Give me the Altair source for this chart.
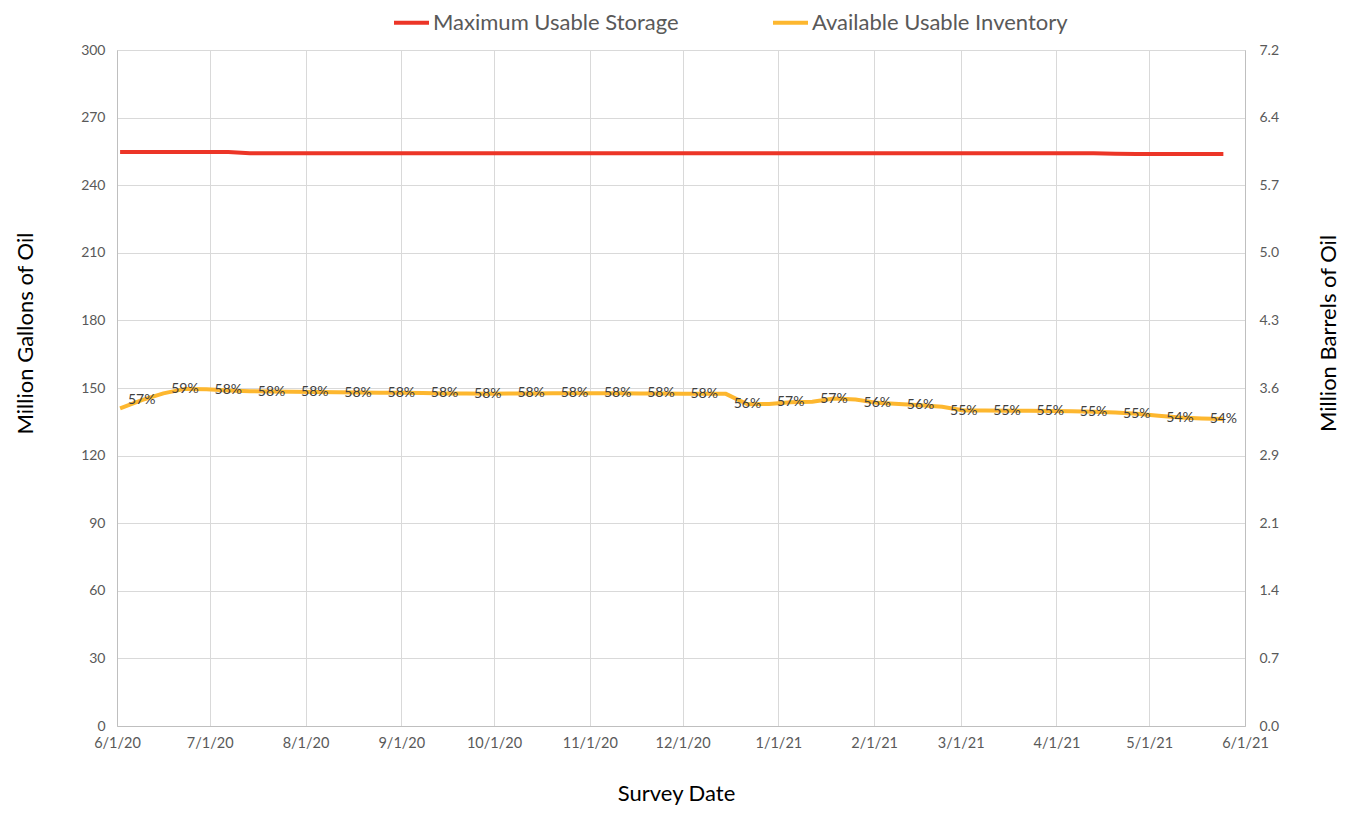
import altair as alt
import pandas as pd

# ---------------- data ----------------
dates = [
    "2020-06-02", "2020-06-09", "2020-06-16", "2020-06-23", "2020-06-30",
    "2020-07-07", "2020-07-14", "2020-07-21", "2020-07-28",
    "2020-08-04", "2020-08-11", "2020-08-18", "2020-08-25",
    "2020-09-01", "2020-09-08", "2020-09-15", "2020-09-22", "2020-09-29",
    "2020-10-06", "2020-10-13", "2020-10-20", "2020-10-27",
    "2020-11-03", "2020-11-10", "2020-11-17", "2020-11-24",
    "2020-12-01", "2020-12-08", "2020-12-15", "2020-12-22", "2020-12-29",
    "2021-01-05", "2021-01-12", "2021-01-19", "2021-01-26",
    "2021-02-02", "2021-02-09", "2021-02-16", "2021-02-23",
    "2021-03-02", "2021-03-09", "2021-03-16", "2021-03-23", "2021-03-30",
    "2021-04-06", "2021-04-13", "2021-04-20", "2021-04-27",
    "2021-05-04", "2021-05-11", "2021-05-18", "2021-05-25",
]

max_storage = [
    254.7, 254.7, 254.7, 254.7, 254.7,
    254.7, 254.2, 254.2, 254.2,
    254.2, 254.2, 254.2, 254.2,
    254.2, 254.2, 254.2, 254.2, 254.2,
    254.2, 254.2, 254.2, 254.2,
    254.2, 254.2, 254.2, 254.2,
    254.2, 254.2, 254.2, 254.2, 254.2,
    254.2, 254.2, 254.2, 254.2,
    254.2, 254.2, 254.2, 254.2,
    254.2, 254.2, 254.2, 254.2, 254.2,
    254.2, 254.2, 254.0, 253.9,
    253.9, 253.9, 253.9, 253.9,
]

inventory = [
    141.0, 144.6, 147.6, 149.6, 149.4,
    148.9, 148.6, 148.4, 148.3,
    148.2, 148.1, 148.0, 147.9,
    147.9, 147.8, 147.6, 147.6, 147.5,
    147.6, 147.6, 147.7, 147.7,
    147.7, 147.7, 147.6, 147.6,
    147.5, 147.5, 147.4, 142.8, 142.9,
    143.7, 143.9, 145.3, 144.9,
    143.4, 142.9, 142.3, 141.7,
    140.0, 140.0, 139.9, 139.9, 139.8,
    139.7, 139.5, 139.1, 138.6,
    137.7, 136.9, 136.5, 136.2,
]

pct_labels = [
    "", "57%", "", "59%", "",
    "58%", "", "58%", "",
    "58%", "", "58%", "",
    "58%", "", "58%", "", "58%",
    "", "58%", "", "58%",
    "", "58%", "", "58%",
    "", "58%", "", "56%", "",
    "57%", "", "57%", "",
    "56%", "", "56%", "",
    "55%", "", "55%", "", "55%",
    "", "55%", "", "55%",
    "", "54%", "", "54%",
]

series_names = ["Maximum Usable Storage", "Available Usable Inventory"]
series_colors = ["#EC3527", "#FDB72F"]

month_ticks = [(2020, m) for m in range(6, 13)] + [(2021, m) for m in range(1, 7)]
left_ticks = [0, 30, 60, 90, 120, 150, 180, 210, 240, 270, 300]
right_tick_labels = ["0.0", "0.7", "1.4", "2.1", "2.9", "3.6", "4.3", "5.0", "5.7", "6.4", "7.2"]

# ---------------- tables ----------------
stamp = [d + "T00:00:00" for d in dates]
long_df = pd.concat([
    pd.DataFrame({"date": stamp, "series": series_names[0], "value": max_storage}),
    pd.DataFrame({"date": stamp, "series": series_names[1], "value": inventory}),
], ignore_index=True)
label_df = pd.DataFrame({"date": stamp, "value": inventory, "label": pct_labels})

FONT = "Lato"
GRID = "#d9d9d9"
AXISLINE = "#bfbfbf"
TICKTXT = "#595959"

x_domain = [alt.DateTime(year=2020, month=6, date=1), alt.DateTime(year=2021, month=6, date=1)]
x_values = [alt.DateTime(year=y, month=m, date=1) for (y, m) in month_ticks]

x_axis = alt.Axis(
    values=x_values, format="%-m/%-d/%y", title="Survey Date",
    labelFont=FONT, labelFontSize=14.5, labelColor=TICKTXT, labelPadding=10,
    labelFlush=False, labelBound=False, labelOverlap=False,
    titleFont=FONT, titleFontSize=22, titleFontWeight="normal", titleColor="#000000",
    titleX=559, titleY=67, titleBaseline="middle", titleAlign="center",
    ticks=False, grid=True, gridColor=GRID, domainColor=AXISLINE,
)
x_scale = alt.Scale(domain=x_domain)

left_axis = alt.Axis(
    values=left_ticks, title="Million Gallons of Oil",
    labelFont=FONT, labelFontSize=14, labelColor=TICKTXT, labelPadding=12,
    titleFont=FONT, titleFontSize=22, titleFontWeight="normal", titleColor="#000000",
    titleAngle=270, titleX=-92, titleY=283, titleBaseline="middle", titleAlign="center",
    ticks=False, grid=True, gridColor=GRID, domainColor=AXISLINE,
)

label_expr = "[" + ",".join("'" + s + "'" for s in right_tick_labels) + "][round(datum.value/30)]"
right_axis = alt.Axis(
    orient="right", values=left_ticks, labelExpr=label_expr, title="Million Barrels of Oil",
    labelFont=FONT, labelFontSize=14, labelColor=TICKTXT, labelPadding=14,
    titleFont=FONT, titleFontSize=22, titleFontWeight="normal", titleColor="#000000",
    titleAngle=270, titleX=83, titleY=283, titleBaseline="middle", titleAlign="center",
    ticks=False, grid=False, domainColor=AXISLINE,
)

lines = alt.Chart(long_df).mark_line(strokeWidth=4).encode(
    x=alt.X("date:T", scale=x_scale, axis=x_axis),
    y=alt.Y("value:Q", scale=alt.Scale(domain=[0, 300], nice=False), axis=left_axis),
    color=alt.Color(
        "series:N",
        scale=alt.Scale(domain=series_names, range=series_colors),
        legend=alt.Legend(
            title=None, orient="none", legendX=275, legendY=-47, direction="horizontal",
            symbolType="stroke", symbolSize=1225, symbolStrokeWidth=4,
            labelFont=FONT, labelFontSize=22, labelColor=TICKTXT, labelOffset=2,
            labelLimit=500, columnPadding=86,
        ),
    ),
    detail="series:N",
)

texts = alt.Chart(label_df).transform_filter("datum.label != ''").mark_text(
    font=FONT, fontSize=14, color="#404040", align="center", baseline="middle"
).encode(
    x=alt.X("date:T", scale=x_scale, axis=x_axis),
    y=alt.Y("value:Q", scale=alt.Scale(domain=[0, 300], nice=False), axis=right_axis),
    text="label:N",
)

chart = alt.layer(lines, texts).resolve_scale(y="independent").properties(
    width=1128, height=676,
    padding={"left": 109, "top": 42, "right": 95, "bottom": 83},
    autosize=alt.AutoSizeParams(type="none"),
).configure_view(stroke=None).configure(background="white")

chart.save("out.html", embed_options={"renderer": "svg", "actions": False})
